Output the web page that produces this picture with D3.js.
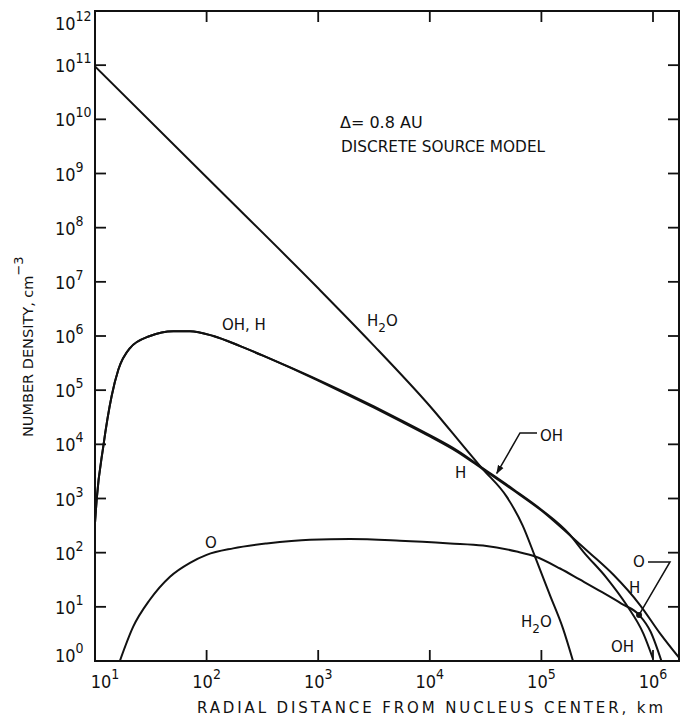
<!DOCTYPE html>
<html>
<head>
<meta charset="utf-8">
<script src="https://cdn.jsdelivr.net/npm/d3@7"></script>
<style>
  body { margin: 0; background: #fff; }
  svg { display: block; }
  text { font-family: 'DejaVu Sans', 'Noto Sans', sans-serif; fill: #111; }
  .num { font-family: 'Liberation Sans Narrow', 'DejaVu Sans Condensed', 'Liberation Sans', sans-serif; }
</style>
</head>
<body>
<svg id="chart" width="692" height="718"></svg>
<script>
// Decade ticks and their exponent labels
const xTickValues = [1e1, 1e2, 1e3, 1e4, 1e5, 1e6];
const xTickExps   = ["1", "2", "3", "4", "5", "6"];
const yTickValues = [1e0, 1e1, 1e2, 1e3, 1e4, 1e5, 1e6, 1e7, 1e8, 1e9, 1e10, 1e11, 1e12];
const yTickExps   = ["0", "1", "2", "3", "4", "5", "6", "7", "8", "9", "10", "11", "12"];

// Number density (cm^-3) against radial distance (km)
const h2oR = [10, 100, 1000, 3000, 1.0e4, 2.45e4, 3.0e4, 4.9e4, 6.8e4, 8.8e4, 1.19e5, 1.56e5, 1.92e5];
const h2oN = [9.5e10, 8.5e8, 7.6e6, 7.4e5, 5.1e4, 5.6e3, 3.45e3, 1.07e3, 316, 83, 16.6, 4.0, 1.0];

const ohR = [10, 10.35, 11.86, 14.1, 16.2, 20.6, 31.1, 50.4, 71.0, 115, 200, 324, 562, 1000, 1780, 3160, 5620,
             1.0e4, 1.78e4, 3.0e4, 5.6e4, 1.0e5, 1.8e5, 2.37e5, 3.85e5, 5.8e5, 8.2e5, 1.0e6];
const ohN = [355, 955, 9100, 7.8e4, 2.4e5, 6.0e5, 1.0e6, 1.23e6, 1.23e6, 1.0e6, 6.5e5, 4.3e5, 2.63e5, 1.55e5, 8.9e4, 5.0e4, 2.75e4,
             1.48e4, 7.6e3, 3.6e3, 1.48e3, 620, 214, 105, 34, 10.8, 3.2, 1.1];

const hR = [10, 10.35, 11.86, 14.1, 16.2, 20.6, 31.1, 50.4, 71.0, 115, 200, 324, 562, 1000, 1780, 3160, 5620,
            1.0e4, 1.78e4, 3.0e4, 5.6e4, 1.0e5, 1.8e5, 2.72e5, 4.42e5, 7.65e5, 1.16e6, 1.71e6];
const hN = [355, 955, 9100, 7.8e4, 2.4e5, 6.0e5, 1.0e6, 1.23e6, 1.23e6, 1.0e6, 6.5e5, 4.3e5, 2.6e5, 1.5e5, 8.5e4, 4.75e4, 2.6e4,
            1.4e4, 7.2e3, 3.45e3, 1.42e3, 600, 210, 98, 39, 10.8, 3.2, 1.15];

const oR = [16.7, 22, 31, 47, 71, 100, 173, 345, 845, 1930, 5400, 1.52e4, 3.0e4, 6.0e4, 8.8e4, 1.47e5, 2.2e5, 3.5e5, 5.2e5, 7.5e5, 9.5e5, 1.19e6];
const oN = [1.0, 4.3, 13.5, 36, 65, 91, 120, 148, 174, 178, 166, 148, 135, 105, 85, 51, 32, 18.6, 11.5, 7.1, 3.5, 1.0];

const series = [
  { name: "H2O", r: h2oR, n: h2oN },
  { name: "OH",  r: ohR,  n: ohN },
  { name: "H",   r: hR,   n: hN },
  { name: "O",   r: oR,   n: oN }
];

// Callout anchors in data units: arrow tip on the OH curve, dot on the O curve
const ohArrowTip = [3.98e4, 2.9e3];
const oCalloutDot = [7.5e5, 7.1];

const svg = d3.select("#chart");
const L = 95, R = 679, T = 11, B = 661;

const x = d3.scaleLog().domain([10, 1.71e6]).range([L, R]);
const y = d3.scaleLog().domain([1, 1e12]).range([B, T]);

// Curves, clipped to the plotting frame
svg.append("clipPath").attr("id", "plotClip")
  .append("rect").attr("x", L).attr("y", T).attr("width", R - L).attr("height", B - T);

const line = d3.line()
  .x(d => x(d[0]))
  .y(d => y(d[1]))
  .curve(d3.curveMonotoneX);

svg.append("g").attr("clip-path", "url(#plotClip)")
  .selectAll("path.curve")
  .data(series)
  .join("path")
  .attr("class", "curve")
  .attr("d", s => line(s.r.map((r, i) => [r, s.n[i]])))
  .attr("fill", "none")
  .attr("stroke", "#111")
  .attr("stroke-width", 2)
  .attr("stroke-linejoin", "round");

// Frame with inward decade ticks on all four sides
svg.append("rect")
  .attr("x", L).attr("y", T).attr("width", R - L).attr("height", B - T)
  .attr("fill", "none").attr("stroke", "#111").attr("stroke-width", 2);

const tickLen = 11;
const ticks = svg.append("g").attr("stroke", "#111").attr("stroke-width", 1.8);
xTickValues.forEach(v => {
  const px = x(v);
  ticks.append("line").attr("x1", px).attr("x2", px).attr("y1", B).attr("y2", B - tickLen);
  ticks.append("line").attr("x1", px).attr("x2", px).attr("y1", T).attr("y2", T + tickLen);
});
yTickValues.forEach(v => {
  const py = y(v);
  ticks.append("line").attr("x1", L).attr("x2", L + tickLen).attr("y1", py).attr("y2", py);
  ticks.append("line").attr("x1", R).attr("x2", R - tickLen).attr("y1", py).attr("y2", py);
});

// Power-of-ten tick labels
function powerLabel(g, exp) {
  g.append("tspan").text("10");
  g.append("tspan").attr("dy", -9).attr("font-size", 14).text(exp);
}
yTickValues.forEach((v, i) => {
  const base = Math.min(Math.max(y(v) + 7, 30), 662);
  const t = svg.append("text").attr("class", "num")
    .attr("x", 55).attr("y", base).attr("font-size", 18);
  powerLabel(t, yTickExps[i]);
});
xTickValues.forEach((v, i) => {
  const cx = Math.max(x(v), 105);
  const t = svg.append("text").attr("class", "num")
    .attr("x", cx).attr("y", 688).attr("font-size", 18).attr("text-anchor", "middle");
  powerLabel(t, xTickExps[i]);
});

// Axis titles
svg.append("text")
  .attr("x", 197).attr("y", 713).attr("font-size", 15)
  .attr("textLength", 466).attr("lengthAdjust", "spacing")
  .text("RADIAL DISTANCE FROM NUCLEUS CENTER, km");

const yTitle = svg.append("text")
  .attr("transform", "translate(33,437) rotate(-90)")
  .attr("font-size", 14.5);
yTitle.append("tspan").text("NUMBER DENSITY,  cm");
yTitle.append("tspan").attr("dy", -10).attr("font-size", 13).text("−3");

// Model description
svg.append("text").attr("x", 340).attr("y", 128).attr("font-size", 16).text("Δ= 0.8 AU");
svg.append("text").attr("x", 341).attr("y", 152).attr("font-size", 15.3).text("DISCRETE SOURCE MODEL");

// Curve labels
const fs = 15;
function label(px, py, txt) {
  return svg.append("text").attr("x", px).attr("y", py).attr("font-size", fs).text(txt);
}
function waterLabel(px, py) {
  const t = svg.append("text").attr("x", px).attr("y", py).attr("font-size", fs);
  t.append("tspan").text("H");
  t.append("tspan").attr("dy", 6).attr("font-size", 12).text("2");
  t.append("tspan").attr("dy", -6).text("O");
}
label(222, 330, "OH,  H");
waterLabel(367, 326);
label(205, 548, "O");
label(455, 478, "H");
waterLabel(521, 627);
label(611, 652, "OH");
label(629, 593, "H");

// OH callout with arrow
svg.append("defs").append("marker")
  .attr("id", "arrow").attr("viewBox", "0 0 10 10")
  .attr("refX", 9).attr("refY", 5)
  .attr("markerWidth", 9).attr("markerHeight", 9)
  .attr("markerUnits", "userSpaceOnUse")
  .attr("orient", "auto")
  .append("path").attr("d", "M0,1.5 L10,5 L0,8.5 Z").attr("fill", "#111");

const tip = [x(ohArrowTip[0]), y(ohArrowTip[1])];
svg.append("path")
  .attr("d", `M537,433 H520 L${tip[0]},${tip[1]}`)
  .attr("fill", "none").attr("stroke", "#111").attr("stroke-width", 1.5)
  .attr("marker-end", "url(#arrow)");
label(540, 441, "OH");

// O callout with leader and dot
const dot = [x(oCalloutDot[0]), y(oCalloutDot[1])];
svg.append("path")
  .attr("d", `M648,562 H670 L${dot[0]},${dot[1]}`)
  .attr("fill", "none").attr("stroke", "#111").attr("stroke-width", 1.5);
svg.append("circle").attr("cx", dot[0]).attr("cy", dot[1]).attr("r", 3).attr("fill", "#111");
label(633, 567, "O");
</script>
</body>
</html>
